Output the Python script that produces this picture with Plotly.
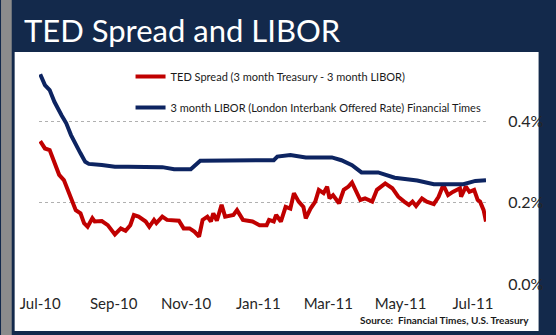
import plotly.graph_objects as go

# ---- data (percent) ----
ted_dates = [
    "2010-07-01", "2010-07-05", "2010-07-09", "2010-07-13", "2010-07-17", "2010-07-21",
    "2010-07-25", "2010-07-28", "2010-07-31", "2010-08-04", "2010-08-07", "2010-08-10",
    "2010-08-14", "2010-08-16", "2010-08-22", "2010-08-27", "2010-09-02", "2010-09-07",
    "2010-09-11", "2010-09-15", "2010-09-18", "2010-09-22", "2010-09-28", "2010-10-01",
    "2010-10-05", "2010-10-07", "2010-10-12", "2010-10-16", "2010-10-22", "2010-10-26",
    "2010-10-30", "2010-11-04", "2010-11-08", "2010-11-12", "2010-11-15", "2010-11-19",
    "2010-11-22", "2010-11-24", "2010-11-27", "2010-12-01", "2010-12-04", "2010-12-11",
    "2010-12-14", "2010-12-19", "2010-12-27", "2011-01-02", "2011-01-08", "2011-01-10",
    "2011-01-14", "2011-01-16", "2011-01-20", "2011-01-24", "2011-01-28", "2011-01-31",
    "2011-02-04", "2011-02-08", "2011-02-10", "2011-02-14", "2011-02-18", "2011-02-21",
    "2011-02-25", "2011-02-28", "2011-03-02", "2011-03-05", "2011-03-08", "2011-03-10",
    "2011-03-14", "2011-03-18", "2011-03-21", "2011-03-24", "2011-03-28", "2011-04-01",
    "2011-04-07", "2011-04-11", "2011-04-18", "2011-04-24", "2011-04-29", "2011-05-04",
    "2011-05-08", "2011-05-11", "2011-05-14", "2011-05-19", "2011-05-23", "2011-05-29",
    "2011-06-02", "2011-06-06", "2011-06-10", "2011-06-14", "2011-06-20", "2011-06-21",
    "2011-06-25", "2011-06-28", "2011-07-02", "2011-07-05", "2011-07-07", "2011-07-10",
    "2011-07-12",
]
ted_values = [
    0.352, 0.334, 0.330, 0.301, 0.269, 0.256,
    0.224, 0.207, 0.182, 0.174, 0.150, 0.141,
    0.162, 0.154, 0.155, 0.145, 0.122, 0.137,
    0.131, 0.145, 0.170, 0.166, 0.154, 0.141,
    0.158, 0.150, 0.166, 0.158, 0.158, 0.156,
    0.137, 0.137, 0.129, 0.117, 0.158, 0.166,
    0.154, 0.174, 0.156, 0.195, 0.166, 0.170,
    0.182, 0.158, 0.154, 0.145, 0.145, 0.158,
    0.154, 0.170, 0.154, 0.190, 0.186, 0.224,
    0.203, 0.190, 0.162, 0.186, 0.203, 0.232,
    0.224, 0.240, 0.211, 0.219, 0.207, 0.199,
    0.232, 0.240, 0.250, 0.232, 0.207, 0.211,
    0.203, 0.232, 0.248, 0.236, 0.215, 0.203,
    0.195, 0.203, 0.192, 0.211, 0.203, 0.197,
    0.215, 0.244, 0.219, 0.227, 0.236, 0.215,
    0.240, 0.227, 0.232, 0.207, 0.203, 0.182,
    0.154,
]

libor_dates = [
    "2010-07-01", "2010-07-05", "2010-07-09", "2010-07-13", "2010-07-19", "2010-07-23",
    "2010-07-27", "2010-07-31", "2010-08-04", "2010-08-08", "2010-08-11", "2010-08-22",
    "2010-09-02", "2010-09-13", "2010-09-27", "2010-10-12", "2010-10-22", "2010-11-05",
    "2010-11-13", "2010-12-01", "2010-12-29", "2011-01-14", "2011-01-17", "2011-01-28",
    "2011-02-10", "2011-03-04", "2011-03-12", "2011-03-21", "2011-03-29", "2011-04-12",
    "2011-04-26", "2011-05-15", "2011-05-29", "2011-06-23", "2011-07-03", "2011-07-12",
]
libor_values = [
    0.517, 0.490, 0.478, 0.449, 0.416, 0.396,
    0.367, 0.343, 0.322, 0.301, 0.296, 0.293,
    0.289, 0.289, 0.289, 0.288, 0.283, 0.283,
    0.304, 0.304, 0.304, 0.305, 0.314, 0.318,
    0.312, 0.312, 0.305, 0.293, 0.275, 0.275,
    0.262, 0.255, 0.246, 0.246, 0.254, 0.256,
]

ted_name = "TED Spread (3 month Treasury - 3 month LIBOR)"
libor_name = "3 month LIBOR (London Interbank Offered Rate) Financial Times"
y_ticks = [0.0, 0.2, 0.4]

# ---- page geometry (pixels) ----
FIG_W, FIG_H = 556, 335
PL, PR, PT, PB = 39, 498, 60, 284
NAVY = "#13294b"


def fx(px):
    return (px - PL) / (PR - PL)


def fy(py):
    return (PB - py) / (PB - PT)


fig = go.Figure()
fig.add_trace(go.Scatter(
    x=ted_dates, y=ted_values, mode="lines", name=ted_name,
    legendgroup="ted", line=dict(color="#c00000", width=4),
))
fig.add_trace(go.Scatter(
    x=libor_dates, y=libor_values, mode="lines", name=libor_name,
    legendgroup="libor", line=dict(color="#0d2461", width=4),
))

shapes = [
    # grey strip on the left edge
    dict(type="rect", xref="paper", yref="paper", x0=fx(0), x1=fx(11), y0=fy(FIG_H), y1=fy(0),
         fillcolor="#8c8c8c", line=dict(width=0), layer="below"),
    # white chart panel
    dict(type="rect", xref="paper", yref="paper", x0=fx(14), x1=fx(552), y0=fy(331), y1=fy(52),
         fillcolor="white", line=dict(width=0), layer="below"),
]

fig.update_layout(
    width=FIG_W, height=FIG_H,
    margin=dict(l=PL, r=FIG_W - PR, t=PT, b=FIG_H - PB),
    paper_bgcolor=NAVY, plot_bgcolor="rgba(0,0,0,0)",
    font=dict(family="Lato, Open Sans, sans-serif", color="#262626"),
    title=dict(text="TED Spread and LIBOR", x=24 / FIG_W, xanchor="left", xref="container",
               y=1 - 31 / FIG_H, yanchor="middle", yref="container",
               font=dict(size=31, color="white", family="Lato, Open Sans, sans-serif")),
    shapes=shapes,
    showlegend=True,
    legend=dict(x=fx(133), y=fy(62), xanchor="left", yanchor="top", traceorder="grouped",
                tracegroupgap=12, bgcolor="rgba(0,0,0,0)", font=dict(size=11, color="#1a1a1a")),
    xaxis=dict(type="date", range=["2010-06-30", "2011-07-12"], tick0="2010-07-01", dtick="M2",
               tickformat="%b-%y", showgrid=False, zeroline=False, showline=False,
               ticks="outside", ticklen=6, tickcolor="rgba(0,0,0,0)",
               tickfont=dict(size=15, color="#262626")),
    yaxis=dict(side="right", range=[0, (PB - PT) / 405.8], tickvals=y_ticks,
               ticktext=[f"{v:.1f}%" for v in y_ticks],
               showgrid=True, gridcolor="#b0b0b0", griddash="dot", gridwidth=1,
               zeroline=False, showline=False,
               ticks="outside", ticklen=18, tickcolor="rgba(0,0,0,0)",
               tickfont=dict(size=16, color="#262626")),
)

fig.add_annotation(
    text="<b>Source:  Financial Times, U.S. Treasury</b>", xref="paper", yref="paper",
    x=fx(544), y=fy(320), xanchor="right", yanchor="middle", showarrow=False,
    font=dict(size=10, color="#1a1a1a"),
)

fig.write_html("out.html")
